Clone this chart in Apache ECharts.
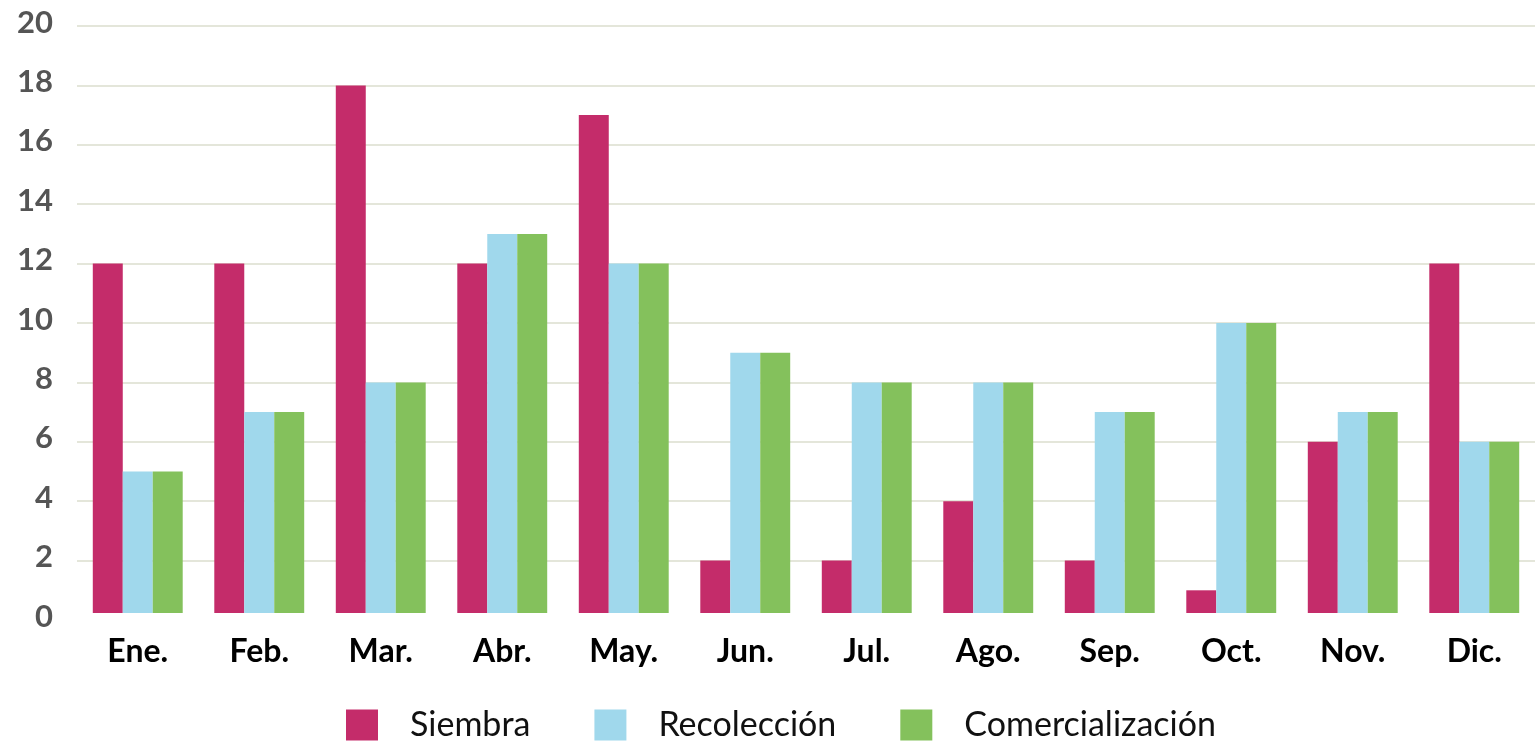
<!DOCTYPE html>
<html>
<head>
<meta charset="utf-8">
<script src="https://cdn.jsdelivr.net/npm/echarts@6/dist/echarts.min.js"></script>
<style>
html,body{margin:0;padding:0;background:#fff;}
#chart{width:1535px;height:744px;}
</style>
</head>
<body>
<div id="chart"></div>
<script>
const categories = ['Ene.','Feb.','Mar.','Abr.','May.','Jun.','Jul.','Ago.','Sep.','Oct.','Nov.','Dic.'];
const siembra = [12,12,18,12,17,2,2,4,2,1,6,12];
const recoleccion = [5,7,8,13,12,9,8,8,7,10,7,6];
const comercializacion = [5,7,8,13,12,9,8,8,7,10,7,6];
const seriesNames = ['Siembra','Recolección','Comercialización'];
const colors = ['#C42C6A','#A0D8EC','#84C15C'];

const chart = echarts.init(document.getElementById('chart'));
chart.setOption({
  animation:false,
  color: colors,
  grid:{left:77, top:26, width:1471, height:594},
  legend:{
    top:703,
    left:341,
    itemWidth:32, itemHeight:31,
    itemGap:64,
    icon:'rect',
    textStyle:{fontFamily:'Lato', fontSize:34, color:'#111', padding:[0,0,0,27]},
    data: seriesNames
  },
  xAxis:{
    type:'category',
    data:categories,
    axisLine:{show:true, lineStyle:{color:'#ffffff', width:14}},
    axisTick:{show:false},
    axisLabel:{fontFamily:'Lato', fontWeight:'bold', fontSize:32, color:'#000', margin:16},
    z:5
  },
  yAxis:{
    type:'value',
    min:0, max:20, interval:2,
    axisLine:{show:false},
    axisTick:{show:false},
    axisLabel:{fontFamily:'Lato', fontWeight:'bold', fontSize:31, color:'#555', margin:24, verticalAlign:'bottom', lineHeight:31, padding:[0,0,-12,0]},
    splitLine:{lineStyle:{color:'#e4e6da', width:2}}
  },
  series:[
    {name:seriesNames[0], type:'bar', data:siembra, barGap:'0%', barCategoryGap:'26%', z:2},
    {name:seriesNames[1], type:'bar', data:recoleccion, barGap:'0%', barCategoryGap:'26%', z:2},
    {name:seriesNames[2], type:'bar', data:comercializacion, barGap:'0%', barCategoryGap:'26%', z:2}
  ]
});
</script>
</body>
</html>
